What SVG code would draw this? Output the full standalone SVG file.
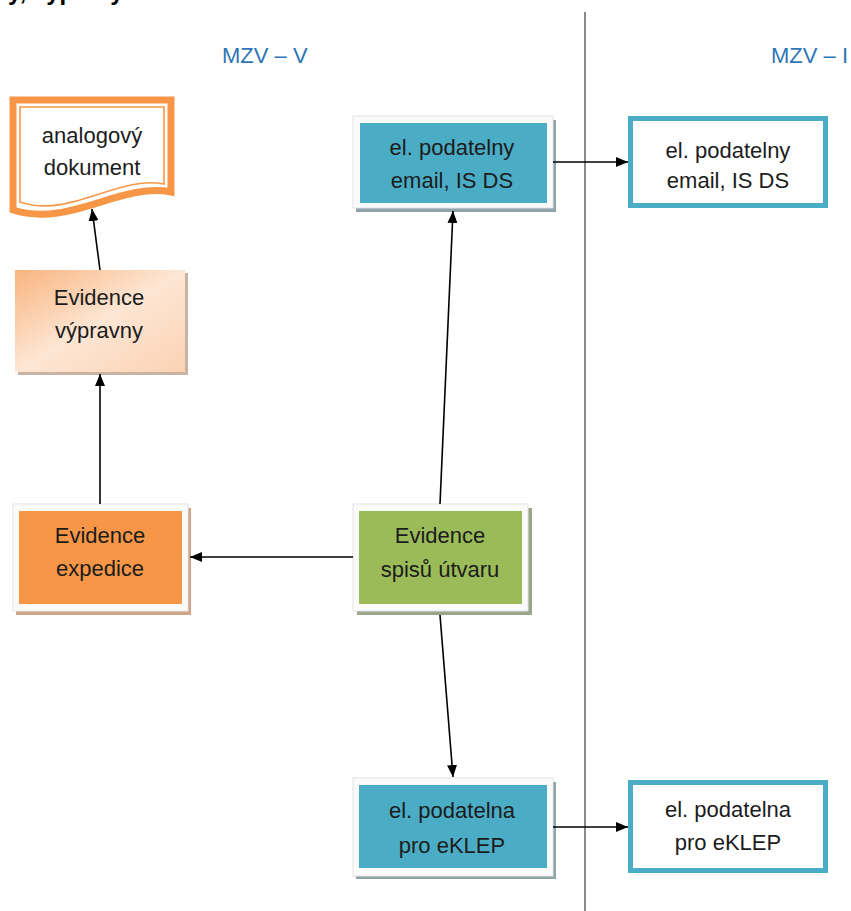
<svg xmlns="http://www.w3.org/2000/svg" width="851" height="911" viewBox="0 0 851 911">
<style>
.t{font-family:"Liberation Sans",Arial,sans-serif;font-size:22px;fill:#1c1c1c;text-anchor:middle}
.lbl{font-family:"Liberation Sans",Arial,sans-serif;font-size:22px;fill:#2e75b6}
.frame{fill:#fbfbfb;stroke:#e4e4e4;stroke-width:1}
.shb{fill:#8fa3ab}
.blue{fill:#4bacc6}
.ob{fill:#fff;stroke:#4bacc6;stroke-width:5}
.c{stroke:#000;stroke-width:1.6;fill:none;marker-end:url(#ah)}
</style>
<defs>
<marker id="ah" viewBox="0 0 12 10" refX="12" refY="5" markerWidth="12" markerHeight="10" markerUnits="userSpaceOnUse" orient="auto">
<path d="M0,0 L12,5 L0,10 Z" fill="#000"/>
</marker>
<linearGradient id="peach" x1="0" y1="0" x2="1" y2="1">
<stop offset="0" stop-color="#f8b47f"/>
<stop offset="0.5" stop-color="#fde6d4"/>
<stop offset="1" stop-color="#fbd2b3"/>
</linearGradient>
</defs>
<rect width="851" height="911" fill="#fff"/>
<text x="8" y="0" font-family="Liberation Sans,Arial,sans-serif" font-size="24" font-weight="bold" fill="#000">y, výpravy</text>
<line x1="585" y1="12" x2="585" y2="911" stroke="#8a8a8a" stroke-width="2"/>
<text class="lbl" x="222" y="63">MZV – V</text>
<text class="lbl" x="771" y="63">MZV – I</text>

<g id="doc">
<path d="M13,100 H171 V192 C120,182 70,228 13,210 Z" fill="#fff" stroke="#f79646" stroke-width="7"/>
<path d="M20,107 H164 V184 C118,175 70,219 20,202 Z" fill="#fff" stroke="#f79646" stroke-width="1.6"/>
<text class="t" x="92" y="143">analogový</text>
<text class="t" x="92" y="175">dokument</text>
</g>

<g id="podatelny">
<rect class="shb" x="356" y="120" width="200" height="92"/>
<rect class="frame" x="353" y="116" width="200" height="92"/>
<rect class="blue" x="360" y="123" width="187" height="80"/>
<text class="t" x="452" y="155">el. podatelny</text>
<text class="t" x="452" y="188">email, IS DS</text>
</g>

<g id="podatelny-i">
<rect class="ob" x="630.5" y="118.5" width="195" height="87"/>
<text class="t" x="728" y="158">el. podatelny</text>
<text class="t" x="728" y="188">email, IS DS</text>
</g>

<g id="vypravny">
<rect x="18" y="273" width="170" height="102" fill="#c9b4a4"/>
<rect x="15" y="270" width="170" height="102" fill="url(#peach)"/>
<text class="t" x="99" y="305">Evidence</text>
<text class="t" x="99" y="338">výpravny</text>
</g>

<g id="expedice">
<rect x="16" y="508" width="175" height="107" fill="#cfa585"/>
<rect class="frame" x="13" y="504" width="175" height="107"/>
<rect x="19" y="511" width="163" height="93" fill="#f79646"/>
<text class="t" x="100" y="543">Evidence</text>
<text class="t" x="100" y="576">expedice</text>
</g>

<g id="spisy">
<rect x="357" y="508" width="175" height="107" fill="#9aa58a"/>
<rect class="frame" x="353" y="504" width="175" height="107"/>
<rect x="359" y="511" width="163" height="93" fill="#9bbb59"/>
<text class="t" x="440" y="543">Evidence</text>
<text class="t" x="440" y="577">spisů útvaru</text>
</g>

<g id="eklep">
<rect class="shb" x="356" y="782" width="200" height="97"/>
<rect class="frame" x="353" y="778" width="200" height="98"/>
<rect class="blue" x="359" y="785" width="188" height="83"/>
<text class="t" x="452" y="818">el. podatelna</text>
<text class="t" x="452" y="853">pro eKLEP</text>
</g>

<g id="eklep-i">
<rect class="ob" x="630.5" y="782.5" width="195" height="88"/>
<text class="t" x="728" y="817">el. podatelna</text>
<text class="t" x="728" y="850">pro eKLEP</text>
</g>

<g id="connectors">
<line class="c" x1="553" y1="162" x2="628" y2="162"/>
<line class="c" x1="553" y1="827" x2="628" y2="827"/>
<line class="c" x1="440" y1="504" x2="453" y2="211"/>
<line class="c" x1="440" y1="615" x2="453" y2="777"/>
<line class="c" x1="353" y1="557" x2="190" y2="557"/>
<line class="c" x1="100" y1="504" x2="100" y2="374"/>
<line class="c" x1="100" y1="270" x2="92" y2="209"/>
</g>
</svg>
